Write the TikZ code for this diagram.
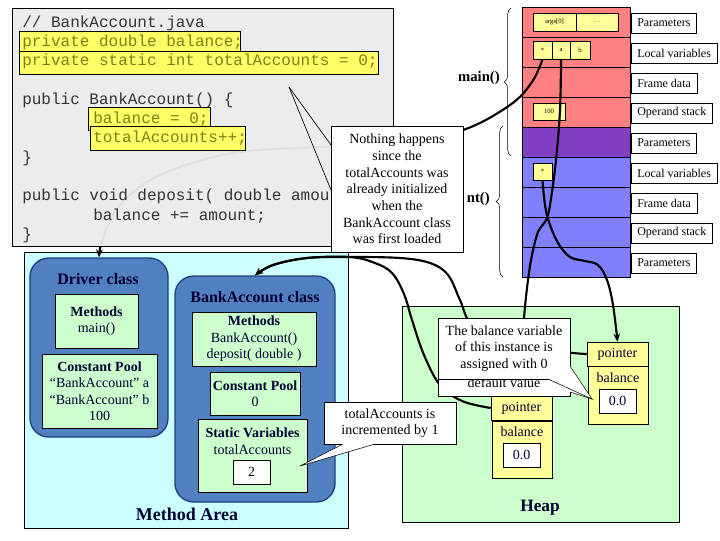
\documentclass[tikz,border=0pt]{standalone}
\usepackage{fontspec}
\setmainfont{Liberation Serif}
\setmonofont{Liberation Mono}
\usetikzlibrary{decorations.pathreplacing,arrows.meta}
\definecolor{stackred}{HTML}{FF8080}
\definecolor{stackpur}{HTML}{8040C0}
\definecolor{stackblue}{HTML}{8080FF}
\definecolor{cellyel}{HTML}{FFFF99}
\definecolor{hlyel}{HTML}{FFFF66}
\definecolor{codegray}{HTML}{EBEBEB}
\definecolor{codetxt}{HTML}{333333}
\definecolor{olivetxt}{HTML}{7F7F1A}
\definecolor{areacyan}{HTML}{CCFFFF}
\definecolor{boxgreen}{HTML}{CCFFCC}
\definecolor{classblue}{HTML}{5080C0}
\definecolor{classedge}{HTML}{1F3F7F}
\definecolor{navytxt}{HTML}{000033}
\begin{document}
\begin{tikzpicture}[x=0.75pt,y=-0.75pt,
  bx/.style 2 args={draw, minimum width=#1*0.75pt, minimum height=#2*0.75pt, inner sep=0pt},
  rowbox/.style={bx={108}{30}, line width=0.4pt},
  lbl/.style={draw, fill=white, anchor=west, font=\fontsize{9}{10}\selectfont, inner xsep=4.5pt, inner ysep=0pt, minimum height=15pt},
  cell/.style={fill=cellyel, font=\fontsize{5}{6}\selectfont},
  tt/.style={anchor=base west, font=\ttfamily\fontsize{12}{14}\selectfont, inner sep=0pt, text=codetxt},
  tth/.style={tt, text=olivetxt},
  hl/.style={fill=hlyel, draw=black, line width=0.6pt},
  txt/.style={font=\fontsize{10.5}{12.3}\selectfont, align=center, text=navytxt},
  callout/.style={draw, fill=white, font=\fontsize{10.5}{12.5}\selectfont, align=center},
  green/.style={fill=boxgreen, draw=black, line width=0.5pt},
  classbox/.style={fill=classblue, draw=classedge, line width=1pt, rounded corners=14pt},
  conn/.style={line width=1.6pt, -{Stealth[length=6pt,width=5pt]}},
  brc/.style={decorate, decoration={brace, amplitude=5pt}, line width=0.4pt}
]
\fill[white] (0,0) rectangle (720,540);
\useasboundingbox (0,0) rectangle (720,540);

% ---------- Stack ----------
\foreach \i/\c in {0/stackred,1/stackred,2/stackred,3/stackred,4/stackpur,5/stackblue,6/stackblue,7/stackblue,8/stackblue}
  {\node[rowbox, fill=\c] (row\i) at (576,{22+30*\i}) {};}
\foreach \i/\t in {0/Parameters,1/Local variables,2/Frame data,3/Operand stack,4/Parameters,5/Local variables,6/Frame data,7/Operand stack,8/Parameters}
  {\node[lbl] (lab\i) at (631,{23+30*\i}) {\t};}
\node[cell, bx={43}{18}] (args) at (554.5,22) {args[0]};
\node[cell, bx={42}{18}] (dots) at (597,22) {. .};
\node[cell, bx={19}{18}] (cellS) at (542.5,50) {*};
\node[cell, bx={18}{18}] (cellA) at (561,50) {a};
\node[cell, bx={20}{18}] (cellB) at (580,50) {b};
\node[cell, bx={32}{17}] (c100) at (549,111.5) {100};
\node[cell, bx={19}{17}] (cellT) at (542.5,171.5) {*};

\draw[brc] (511,156) -- (511,8);
\draw[brc] (503,277) -- (503,126);
\node[anchor=east, font=\bfseries\fontsize{11}{12}\selectfont, inner sep=0pt] (mainlbl) at (500,78) {main()};
\node[anchor=east, font=\bfseries\fontsize{11}{12}\selectfont, inner sep=0pt] (balbl) at (490,199) {nt()};

% ---------- Method area ----------
\node[bx={324}{276}, fill=areacyan, line width=0.5pt] (marea) at (186,390) {};
\node[font=\bfseries\fontsize{13.5}{15}\selectfont, text=navytxt] (mareat) at (187,514) {Method Area};
\node[classbox, minimum width=138*0.75pt, minimum height=179*0.75pt] (dClass) at (99,347.5) {};
\node[font=\bfseries\fontsize{12}{13}\selectfont, text=navytxt] (dTitle) at (98,279) {Driver class};
\node[green, bx={83}{54}, txt] (dMeth) at (96.5,321) {\textbf{Methods}\\main()};
\node[green, bx={115}{74}, txt] (dPool) at (99.5,391) {\textbf{Constant Pool}\\“BankAccount” a\\“BankAccount” b\\100};
\node[classbox, minimum width=160*0.75pt, minimum height=226*0.75pt] (bClass) at (255,389) {};
\node[font=\bfseries\fontsize{12}{13}\selectfont, text=navytxt] (bTitle) at (255,297) {BankAccount class};
\node[green, bx={124}{54}, txt] (bMeth) at (254,339) {\textbf{Methods}\\BankAccount()\\deposit( double )};
\node[green, bx={90}{43}, txt] (bPool) at (255,393.5) {\textbf{Constant Pool}\\0};
\node[green, bx={109}{73}] (bStat) at (252.5,455.5) {};
\node[txt] (bStatT) at (252.5,441) {\textbf{Static Variables}\\totalAccounts};
\node[bx={37}{24}, fill=white, txt] (bVal) at (251.5,472) {2};

% ---------- Heap ----------
\node[green, bx={277}{216}] (heap) at (540.5,414) {};
\node[font=\bfseries\fontsize{13}{15}\selectfont, text=navytxt] (heapt) at (540,508) {Heap};
\node[bx={61}{24}, fill=cellyel, txt] (ptrL) at (521.5,408) {pointer};
\node[bx={60}{57}, fill=cellyel] (balL) at (522,449.5) {};
\node[txt] (balLt) at (522,432) {balance};
\node[bx={37}{24}, fill=white, txt] (valL) at (521.5,455) {0.0};
\node[bx={61}{24}, fill=cellyel, txt] (ptrR) at (617.5,354) {pointer};
\node[bx={60}{58}, fill=cellyel] (balR) at (618,395) {};
\node[txt] (balRt) at (618,378) {balance};
\node[bx={37}{24}, fill=white, txt] (valR) at (617.5,401) {0.0};

% ---------- Connectors ----------
\draw[conn] plot[smooth, tension=0.6] coordinates {(cellS.south) (532,82) (510,105) (463,130) (400,142) (320,147) (233,153) (160,175) (120,205) (103,238) (dClass.north)};
\draw[conn] plot[smooth, tension=0.6] coordinates {(cellA.south) (560,110) (556,160) (550,205) (546,220) (538,232) (532,255) (528,280) (524,318) (522,360) (ptrL.north)};
\draw[conn] plot[smooth, tension=0.6] coordinates {(cellT.south) (545,205) (549,222) (558,243) (570,257) (585,261) (598,265) (607,280) (613,305) (ptrR.north)};
\draw[conn] plot[smooth, tension=0.6] coordinates {(ptrL.west) (462,401) (440,385) (424,355) (412,320) (404,294) (392,273) (375,263) (350,257) (307,258) (273,265) (bClass.north)};
\draw[conn] plot[smooth, tension=0.6] coordinates {(ptrR.west) (565,352) (505,343) (472,325) (460,300) (448,275) (430,263) (400,258) (350,257) (307,258) (273,265) (bClass.north)};

% ---------- Code box ----------
\node[bx={381}{238}, fill=codegray, fill opacity=0.95, draw opacity=1, line width=0.7pt] (code) at (202.5,127) {};
\node[hl, bx={221}{21}] (hl1) at (129.5,41.5) {};
\node[hl, bx={359}{23}] (hl2) at (198.5,62.5) {};
\node[hl, bx={122}{23}] (hl3) at (149,118.5) {};
\node[hl, bx={155}{24}] (hl4) at (167.5,138) {};
\node[tt] (l1) at (22,27) {// BankAccount.java};
\node[tth] (l2) at (22,46.3) {private double balance;};
\node[tth] (l3) at (22,65.6) {private static int totalAccounts = 0;};
\node[tt] (l4) at (22,104.2) {public BankAccount() \{};
\node[tth] (l5) at (93,123.5) {balance = 0;};
\node[tth] (l6) at (93,142.8) {totalAccounts++;};
\node[tt] (l7) at (22,162.1) {\}};
\node[tt] (l8) at (22,200.7) {public void deposit( double amou};
\node[tt] (l9) at (93,220) {balance += amount;};
\node[tt] (l10) at (22,239.3) {\}};

% ---------- Callout: nothing happens ----------
\coordinate (tipA) at (289,87);
\draw[line width=0.5pt] (tipA) -- (331,145);
\draw[line width=0.5pt] (tipA) -- (331,190);
\node[callout, bx={132}{126}] (calA) at (397,189) {Nothing happens\\since the\\totalAccounts was\\already initialized\\when the\\BankAccount class\\was first loaded};

% ---------- Callout: balance variable ----------
\coordinate (tipC) at (592,399);
\node[bx={132}{78}, fill=white, line width=0.5pt] (calCb) at (504,357) {};
\node[anchor=base, font=\fontsize{10.5}{12.5}\selectfont] (calCbt) at (504,387) {default value};
\filldraw[fill=white, line width=0.4pt] (570,381) -- (tipC) -- (570,392);
\node[callout, bx={132}{61}] (calCf) at (504,348.5) {The balance variable\\of this instance is\\assigned with 0};
\filldraw[fill=white, line width=0.4pt] (548,379) -- (tipC) -- (570,366);

% ---------- Callout: totalAccounts incremented ----------
\coordinate (tipB) at (300,466);
\node[callout, bx={132}{42}] (calB) at (390,423) {totalAccounts is\\incremented by 1};
\filldraw[fill=white, line width=0.4pt] (343,444) -- (tipB) -- (375,444);
\end{tikzpicture}
\end{document}
